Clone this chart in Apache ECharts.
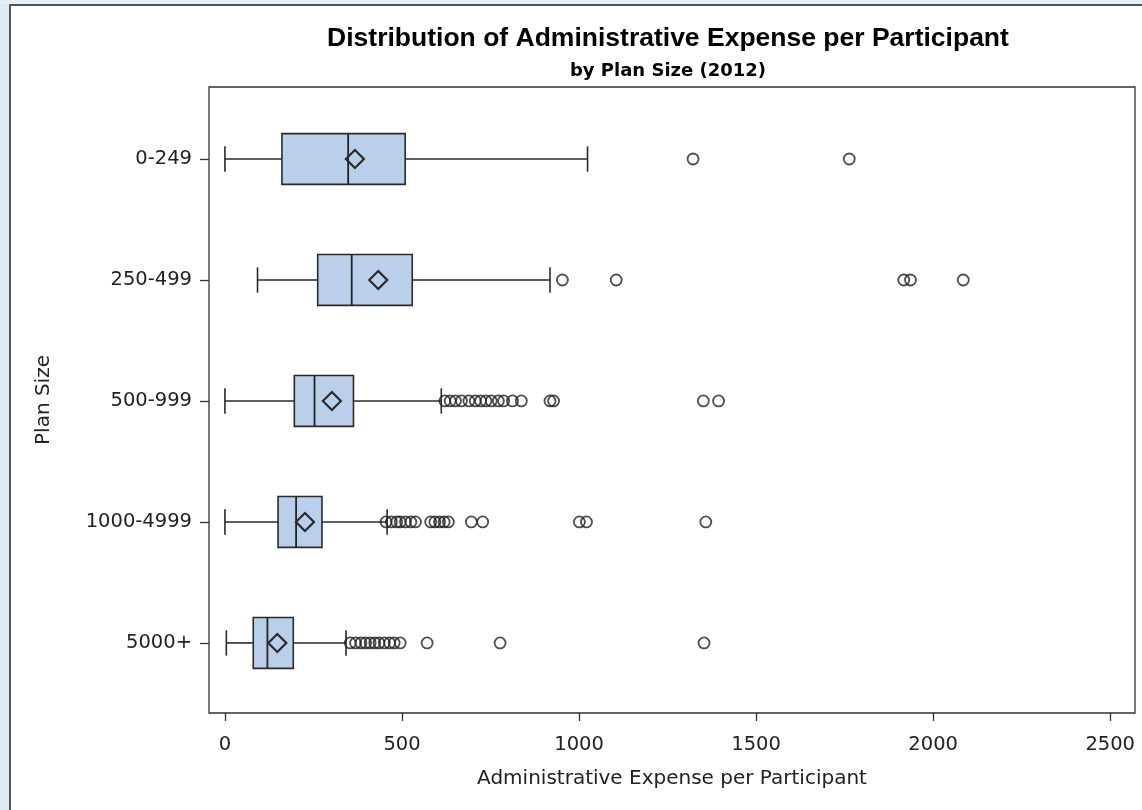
<!DOCTYPE html>
<html><head><meta charset="utf-8">
<script src="https://cdn.jsdelivr.net/npm/echarts@6/dist/echarts.min.js"></script>
<style>html,body{margin:0;padding:0;background:#fff}#c{width:1142px;height:810px}</style>
</head><body><div id="c"></div><script>
const categories = ['0-249', '250-499', '500-999', '1000-4999', '5000+'];
const whiskerLow = [0, 92, 0, 0, 4];
const q1 = [161, 262, 196, 150, 80];
const median = [348, 358, 253, 201, 120];
const q3 = [509, 529, 363, 274, 193];
const whiskerHigh = [1024, 918, 611, 458, 342];
const mean = [367, 433, 302, 226, 148];
const outliers0 = [1322, 1763];
const outliers1 = [953, 1105, 1917, 1936, 2085];
const outliers2 = [621, 636, 651, 668, 689, 707, 722, 737, 752, 772, 787, 812, 837, 918, 928, 1351, 1394];
const outliers3 = [455, 470, 485, 495, 510, 525, 538, 581, 593, 606, 619, 631, 696, 728, 1001, 1021, 1358];
const outliers4 = [354, 369, 384, 397, 410, 423, 435, 450, 465, 478, 495, 571, 777, 1353];
const xTicks = [0, 500, 1000, 1500, 2000, 2500];
const yTicks = [0, 1, 2, 3, 4];

const outlierRows = [outliers0, outliers1, outliers2, outliers3, outliers4];
const boxData = categories.map((c, i) => [whiskerLow[i], q1[i], median[i], q3[i], whiskerHigh[i], mean[i], i]);
const outlierData = [];
outlierRows.forEach((row, i) => row.forEach(v => outlierData.push([v, i])));

const TFONT = '"Liberation Sans", Arial, sans-serif';
const FONT = '"DejaVu Sans", Verdana, sans-serif';
const chart = echarts.init(document.getElementById('c'), null, {renderer: 'canvas'});
chart.setOption({
  backgroundColor: '#fff',
  animation: false,
  title: [
    {text: 'Distribution of Administrative Expense per Participant', left: 668, top: 25, textAlign: 'center', padding: 0,
     textStyle: {fontFamily: TFONT, fontSize: 26.5, fontWeight: 'bold', color: '#000'}},
    {text: 'by Plan Size (2012)', left: 668, top: 62, textAlign: 'center', padding: 0,
     textStyle: {fontFamily: FONT, fontSize: 18, fontWeight: 'bold', color: '#000'}}
  ],
  graphic: [
    {type: 'rect', shape: {x: 0, y: 0, width: 9, height: 810}, style: {fill: '#dde9f7'}, silent: true},
    {type: 'rect', shape: {x: 0, y: 0, width: 1142, height: 4}, style: {fill: '#e6eff9'}, silent: true},
    {type: 'line', shape: {x1: 10, y1: 4, x2: 10, y2: 810}, style: {stroke: '#555', lineWidth: 2}, silent: true},
    {type: 'line', shape: {x1: 10, y1: 5, x2: 1142, y2: 5}, style: {stroke: '#555', lineWidth: 2}, silent: true}
  ],
  grid: {left: 209, top: 87, width: 926, height: 626, show: true, borderColor: '#333', borderWidth: 1.3, backgroundColor: 'transparent'},
  xAxis: {
    type: 'value', min: -45, max: 2570, position: 'bottom',
    name: 'Administrative Expense per Participant', nameLocation: 'middle', nameGap: 56,
    nameTextStyle: {fontFamily: FONT, fontSize: 20, color: '#222'},
    axisLine: {show: false, onZero: false},
    axisTick: {show: true, customValues: xTicks, length: 8, lineStyle: {color: '#333', width: 1.3}},
    axisLabel: {customValues: xTicks, formatter: v => String(v), fontFamily: FONT, fontSize: 19.5, color: '#222', margin: 22},
    splitLine: {show: false}
  },
  yAxis: {
    type: 'value', inverse: true, min: -0.595, max: 4.579, position: 'left',
    name: 'Plan Size', nameLocation: 'middle', nameGap: 155, nameRotate: 90,
    nameTextStyle: {fontFamily: FONT, fontSize: 20, color: '#222'},
    axisLine: {show: false, onZero: false},
    axisTick: {show: true, customValues: yTicks, length: 9, lineStyle: {color: '#333', width: 1.3}},
    axisLabel: {customValues: yTicks, formatter: v => categories[Math.round(v)] || '', fontFamily: FONT, fontSize: 19.5, color: '#222', margin: 17},
    splitLine: {show: false}
  },
  series: [
    {
      type: 'custom',
      data: boxData,
      encode: {x: [0, 1, 2, 3, 4, 5], y: 6},
      renderItem: function (params, api) {
        const y = api.value(6);
        const p = d => api.coord([api.value(d), y]);
        const lo = p(0), a = p(1), m = p(2), b = p(3), hi = p(4), mn = p(5);
        const unit = api.size([0, 1])[1];
        const hb = unit * 0.21, hc = unit * 0.105, hd = 9;
        const cy = lo[1];
        const ls = {stroke: '#2a2a2a', lineWidth: 1.6, fill: null};
        return {
          type: 'group',
          children: [
            {type: 'line', shape: {x1: lo[0], y1: cy, x2: a[0], y2: cy}, style: ls},
            {type: 'line', shape: {x1: b[0], y1: cy, x2: hi[0], y2: cy}, style: ls},
            {type: 'line', shape: {x1: lo[0], y1: cy - hc, x2: lo[0], y2: cy + hc}, style: ls},
            {type: 'line', shape: {x1: hi[0], y1: cy - hc, x2: hi[0], y2: cy + hc}, style: ls},
            {type: 'rect', shape: {x: a[0], y: cy - hb, width: b[0] - a[0], height: 2 * hb}, style: {fill: '#bad0ea', stroke: '#2a2a2a', lineWidth: 1.6}},
            {type: 'line', shape: {x1: m[0], y1: cy - hb, x2: m[0], y2: cy + hb}, style: {stroke: '#222', lineWidth: 1.8}},
            {type: 'polygon', shape: {points: [[mn[0], cy - hd], [mn[0] + hd, cy], [mn[0], cy + hd], [mn[0] - hd, cy]]}, style: {fill: null, stroke: '#2a2a2a', lineWidth: 2.2}}
          ]
        };
      },
      z: 2
    },
    {
      type: 'scatter',
      data: outlierData,
      symbol: 'circle',
      symbolSize: 11,
      itemStyle: {color: 'rgba(0,0,0,0)', borderColor: '#222', borderWidth: 1.8},
      z: 3
    }
  ]
});
</script></body></html>
